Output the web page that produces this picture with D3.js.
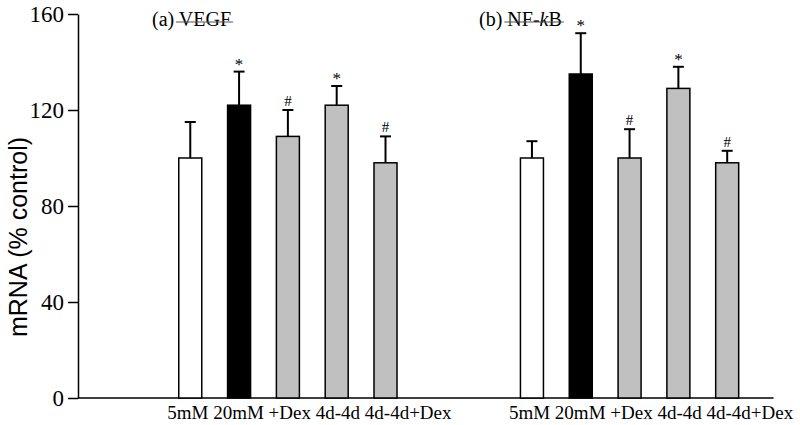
<!DOCTYPE html>
<html>
<head>
<meta charset="utf-8">
<script src="https://cdn.jsdelivr.net/npm/d3@7"></script>
<style>
  body { margin: 0; background: #fff; }
  text { font-family: "Liberation Serif", "Times New Roman", serif; fill: #000; }
</style>
</head>
<body>
<div id="chart"></div>
<script>
// panels and conditions
const panels = ["(a) VEGF", "(b) NF-kB"];
const conditions = ["5mM", "20mM", "+Dex", "4d-4d", "4d-4d+Dex"];
const fills = ["#ffffff", "#000000", "#c0c0c0", "#c0c0c0", "#c0c0c0"];

// mean and upper error (% control)
const vegfMean = [100, 122, 109, 122, 98];
const vegfErr = [15, 14, 11, 8, 11];
const nfkbMean = [100, 135, 100, 129, 98];
const nfkbErr = [7, 17, 12, 9, 5];
const vegfMarks = ["", "*", "#", "*", "#"];
const nfkbMarks = ["", "*", "#", "*", "#"];

const yTicks = [0, 40, 80, 120, 160];

const width = 800, height = 425;

const svg = d3.select("#chart").append("svg")
  .attr("width", width)
  .attr("height", height);

// slot index: panel a at 0..4, panel b at 7..11
const x = d3.scaleLinear().domain([-2.3, 12]).range([78, 776]);
const y = d3.scaleLinear().domain([0, 160]).range([398, 14]);
const barW = 23;

const series = [
  { means: vegfMean, errs: vegfErr, marks: vegfMarks },
  { means: nfkbMean, errs: nfkbErr, marks: nfkbMarks }
];

const rows = [];
series.forEach((s, gi) => {
  conditions.forEach((c, ci) => {
    rows.push({ group: gi, cond: c, slot: gi * 7 + ci, mean: s.means[ci], err: s.errs[ci], mark: s.marks[ci], fill: fills[ci] });
  });
});

// y axis
const yAxis = svg.append("g")
  .attr("transform", "translate(78,0)")
  .call(d3.axisLeft(y).tickValues(yTicks).tickSize(10).tickPadding(4).tickSizeOuter(0));
yAxis.select(".domain").attr("stroke", "#000").attr("stroke-width", 1.5);
yAxis.selectAll(".tick line").attr("stroke", "#000").attr("stroke-width", 1.5);
yAxis.selectAll(".tick text")
  .attr("font-family", "Liberation Serif")
  .attr("font-size", 23)
  .attr("fill", "#000");

// x axis line (no ticks)
svg.append("line")
  .attr("x1", 78).attr("x2", x(11.95))
  .attr("y1", y(0)).attr("y2", y(0))
  .attr("stroke", "#000").attr("stroke-width", 1.5);

svg.append("text")
  .attr("transform", "translate(27,237) rotate(-90)")
  .attr("text-anchor", "middle")
  .style("font-family", "Liberation Sans, Arial, sans-serif")
  .attr("font-size", 25)
  .text("mRNA (% control)");

// error bars
const eb = svg.append("g").attr("stroke", "#000").attr("stroke-width", 2);
eb.selectAll("line.v").data(rows).join("line")
  .attr("class", "v")
  .attr("x1", d => x(d.slot)).attr("x2", d => x(d.slot))
  .attr("y1", d => y(d.mean)).attr("y2", d => y(d.mean + d.err));
eb.selectAll("line.cap").data(rows).join("line")
  .attr("class", "cap")
  .attr("x1", d => x(d.slot) - 5.5).attr("x2", d => x(d.slot) + 5.5)
  .attr("y1", d => y(d.mean + d.err)).attr("y2", d => y(d.mean + d.err));

// bars
svg.append("g").selectAll("rect").data(rows).join("rect")
  .attr("x", d => x(d.slot) - barW / 2)
  .attr("y", d => y(d.mean))
  .attr("width", barW)
  .attr("height", d => y(0) - y(d.mean))
  .attr("fill", d => d.fill)
  .attr("stroke", "#000")
  .attr("stroke-width", 1.5);

// significance marks
svg.append("g").selectAll("text").data(rows.filter(d => d.mark)).join("text")
  .attr("x", d => x(d.slot))
  .attr("y", d => y(d.mean + d.err) - (d.mark === "*" ? 2 : 4))
  .attr("text-anchor", "middle")
  .attr("font-size", d => d.mark === "*" ? 17 : 15)
  .text(d => d.mark);

// category labels under each panel
[0, 1].forEach(gi => {
  svg.append("text")
    .attr("x", x(gi * 7) - 23)
    .attr("y", 419)
    .attr("font-size", 19)
    .style("white-space", "pre")
    .text(conditions.join(" "));
});

// panel titles with the underline rule
const titleX = [152, 479];
panels.forEach((p, gi) => {
  const t = svg.append("text")
    .attr("x", titleX[gi])
    .attr("y", 26)
    .attr("font-size", 20);
  const parts = p.split(" ");
  t.append("tspan").text(parts[0] + " ");
  if (gi === 1) {
    t.append("tspan").text("NF-");
    t.append("tspan").attr("font-style", "italic").text("k");
    t.append("tspan").text("B");
  } else {
    t.append("tspan").text(parts[1]);
  }
  const bb = t.node().getBBox();
  const nameStart = titleX[gi] + t.select("tspan").node().getComputedTextLength();
  svg.append("line")
    .attr("x1", nameStart - 3).attr("x2", bb.x + bb.width + 2)
    .attr("y1", 22).attr("y2", 22)
    .attr("stroke", "#555").attr("stroke-width", 1.2);
});
</script>
</body>
</html>
